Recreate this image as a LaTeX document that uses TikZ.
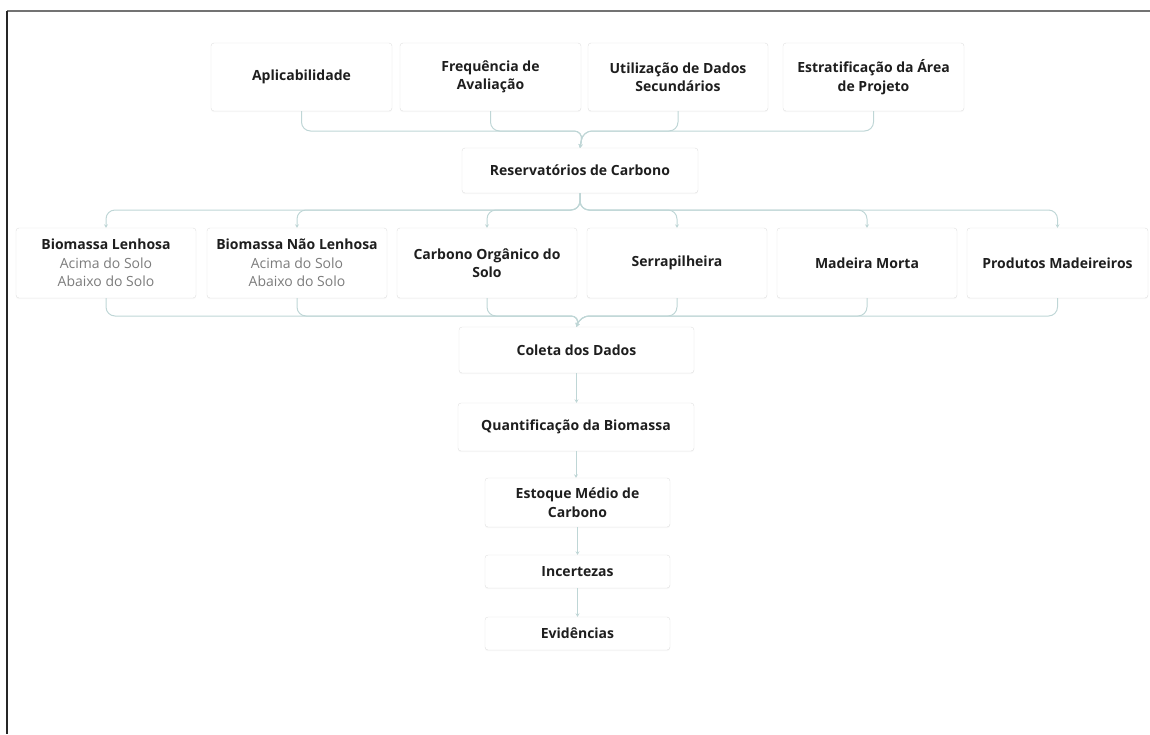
\documentclass[tikz,border=0pt]{standalone}
\usepackage{fontspec}
\setmainfont{Open Sans}
\usetikzlibrary{arrows.meta}
\usetikzlibrary{shadows}

\definecolor{lineTeal}{HTML}{BFD6D6}
\definecolor{boxEdge}{HTML}{E0E0E0}
\definecolor{subGray}{HTML}{7C7C7C}
\definecolor{textDark}{HTML}{1E1E1E}

\begin{document}
\begin{tikzpicture}
[x=1pt,y=-1pt,
 boxDecorate/.style={draw=boxEdge,fill=white,rounded corners=3pt,align=center,
   inner sep=2pt,text=textDark,font=\fontsize{14}{18.5}\selectfont\bfseries,
   drop shadow={opacity=0.06,shadow xshift=0pt,shadow yshift=-1.2pt}},
 lineDecorate/.style={draw=lineTeal,line width=1pt,rounded corners=9pt},
 arrowDecorate/.style={lineDecorate,-{Stealth[length=3.5pt,width=4pt]}}]
\useasboundingbox (0,0) rectangle (1150,734);
%% frame
\draw[draw=black!55,line width=2pt] (7,11) -- (1150,11);
\draw[draw=black!85,line width=1.2pt] (7,11) -- (7,734);
%% nodes or boxes
\foreach \nodename/\x/\y/\w/\h/\txt in {
  apl/301.5/77/181/68/{Aplicabilidade},
  freq/490.5/77/181/68/{Frequência de\\Avaliação},
  util/678/77/180/68/{Utilização de Dados\\Secundários},
  estr/873.5/77/181/68/{Estratificação da Área\\de Projeto},
  res/580/170.5/236/45/{Reservatórios de Carbono},
  lenh/106/263/180/70/{Biomassa Lenhosa\\{\normalfont\color{subGray}Acima do Solo}\\{\normalfont\color{subGray}Abaixo do Solo}},
  naolenh/297/263/180/70/{Biomassa Não Lenhosa\\{\normalfont\color{subGray}Acima do Solo}\\{\normalfont\color{subGray}Abaixo do Solo}},
  carb/487/263/180/70/{Carbono Orgânico do\\Solo},
  serr/677/263/180/70/{Serrapilheira},
  mad/867/263/180/70/{Madeira Morta},
  prod/1057.5/263/181/70/{Produtos Madeireiros},
  col/576.5/350/235/46/{Coleta dos Dados},
  quant/576/427/236/48/{Quantificação da Biomassa},
  est/577.5/502.5/185/49/{Estoque Médio de\\Carbono},
  inc/577.5/571.5/185/33/{Incertezas},
  evid/577.5/633.5/185/33/{Evidências}}
{
  \node[boxDecorate,minimum width=\w pt,minimum height=\h pt] (\nodename) at (\x,\y) {\txt};
}
%% merge points
\coordinate (m1) at (583,131);
\coordinate (m2) at (580,210);
\coordinate (m3) at (580,316);
%% edges or lines
\foreach \nodename in {apl,freq,util,estr}
  \draw[arrowDecorate] (\nodename.south) |- (m1) -- (res.north);
\foreach \nodename in {lenh,naolenh,carb,serr,mad,prod}
  \draw[arrowDecorate] (res.south) -- (m2) -| (\nodename.north);
\foreach \nodename in {lenh,naolenh,carb,serr,mad,prod}
  \draw[arrowDecorate] (\nodename.south) |- (m3) -- (col.north);
\foreach \startnode/\endnode in {col/quant, quant/est, est/inc, inc/evid}
  \draw[arrowDecorate] (\startnode.south) -- (\startnode.south |- \endnode.north);
\end{tikzpicture}
\end{document}
